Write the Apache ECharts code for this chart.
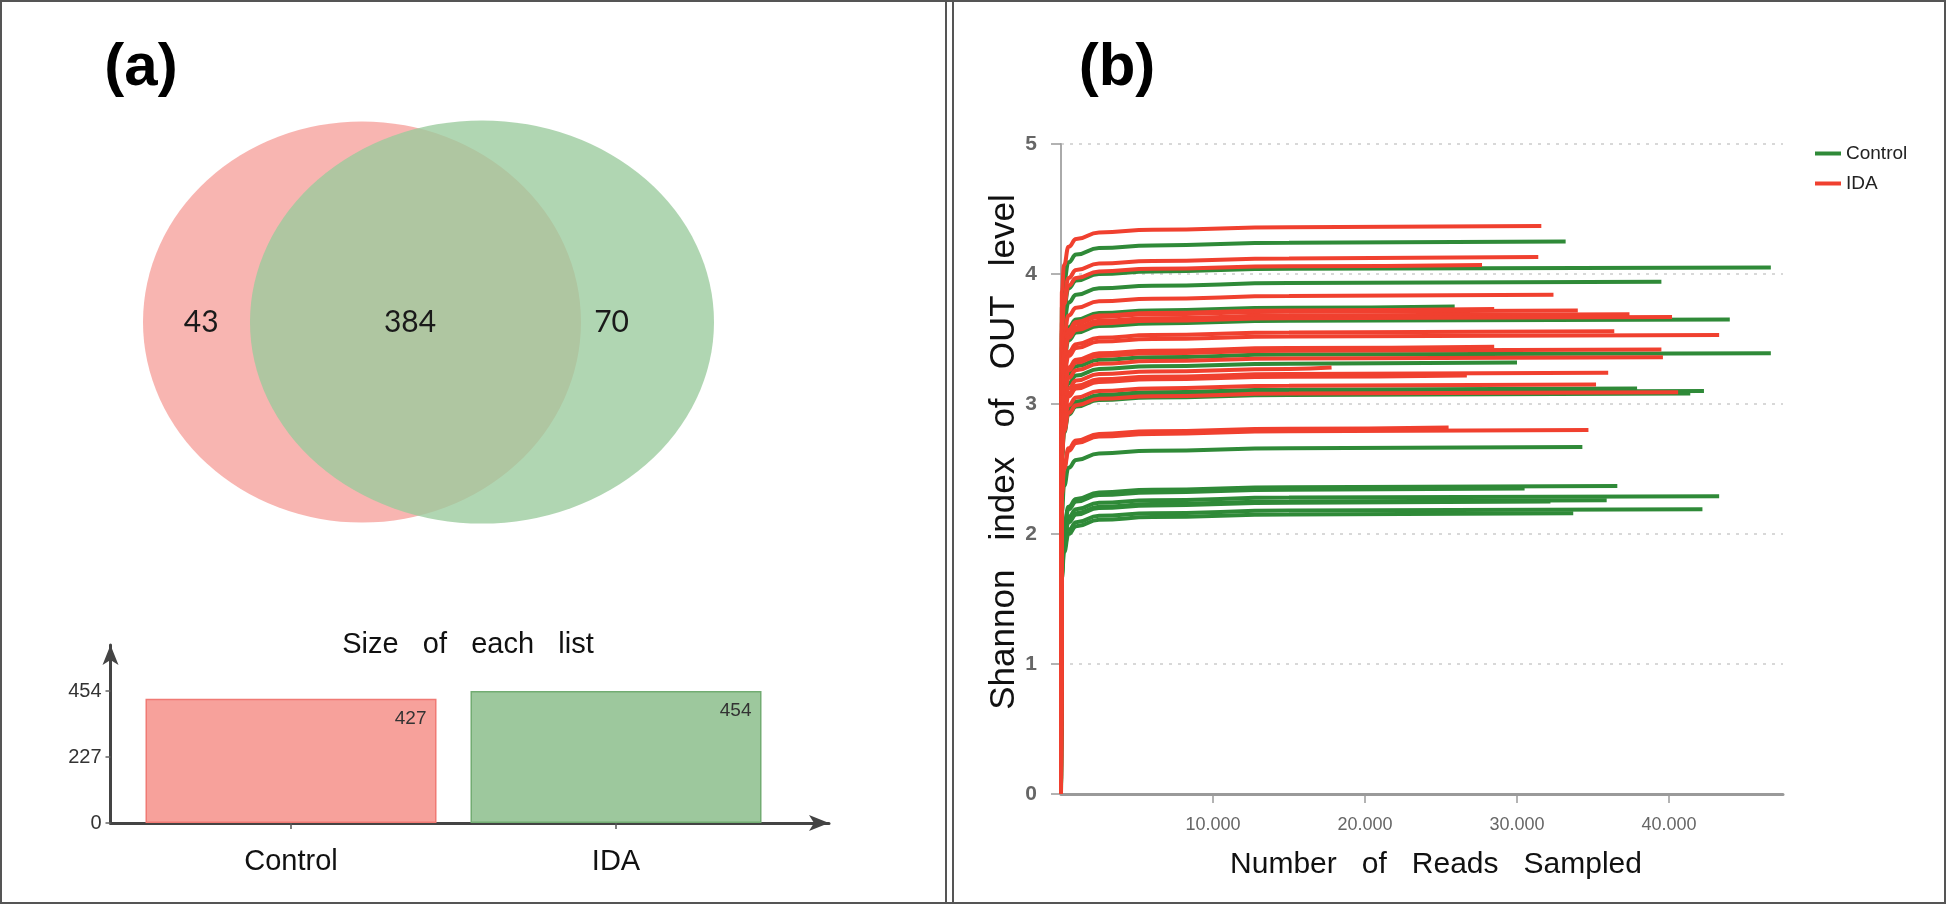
<!DOCTYPE html>
<html><head><meta charset="utf-8">
<script src="https://cdn.jsdelivr.net/npm/echarts@6/dist/echarts.min.js"></script>
<style>html,body{margin:0;padding:0;background:#fff}#c{width:1946px;height:904px}</style>
</head><body><div id="c"></div>
<script>
// ---------- data ----------
const vennSets = ['Control', 'IDA'];
const vennSetX = [0, 1];
const vennRegionValues = [43, 384, 70];
const vennRegionX = [-1.34, 0.40, 2.08];

const barCategories = ['Control', 'IDA'];
const barValues = [427, 454];
const barTicks = [0, 227, 454];

const xTicks = [10000, 20000, 30000, 40000];
const yTicks = [0, 1, 2, 3, 4, 5];

// rarefaction curves: reads sampled at these depths, then a final point at each sample's total depth
const readSteps = [0, 60, 200, 500, 1000, 2500, 6000, 15000];
// [total reads, Shannon values at readSteps..., Shannon at total reads]
const controlCurves = [
  [33200, [0,3.75,3.95,4.09,4.15,4.20,4.22,4.24,4.25]],
  [46700, [0,3.55,3.75,3.89,3.95,4.00,4.02,4.04,4.05]],
  [39500, [0,3.44,3.64,3.78,3.84,3.89,3.91,3.93,3.94]],
  [25900, [0,3.25,3.45,3.59,3.65,3.70,3.72,3.74,3.75]],
  [44000, [0,3.15,3.35,3.49,3.55,3.60,3.62,3.64,3.65]],
  [46700, [0,2.89,3.09,3.23,3.29,3.34,3.36,3.38,3.39]],
  [30000, [0,2.82,3.02,3.16,3.22,3.27,3.29,3.31,3.32]],
  [37900, [0,2.62,2.82,2.96,3.02,3.07,3.09,3.11,3.12]],
  [42300, [0,2.60,2.80,2.94,3.00,3.05,3.07,3.09,3.10]],
  [41400, [0,2.58,2.78,2.92,2.98,3.03,3.05,3.07,3.08]],
  [34300, [0,2.17,2.37,2.51,2.57,2.62,2.64,2.66,2.67]],
  [36600, [0,1.87,2.07,2.21,2.27,2.32,2.34,2.36,2.37]],
  [30500, [0,1.85,2.05,2.19,2.25,2.30,2.32,2.34,2.35]],
  [43300, [0,1.79,1.99,2.13,2.19,2.24,2.26,2.28,2.29]],
  [35900, [0,1.76,1.96,2.10,2.16,2.21,2.23,2.25,2.26]],
  [32200, [0,1.75,1.95,2.09,2.15,2.20,2.22,2.24,2.25]],
  [42200, [0,1.69,1.89,2.03,2.09,2.14,2.16,2.18,2.19]],
  [33700, [0,1.66,1.86,2.00,2.06,2.11,2.13,2.15,2.16]]
];
const idaCurves = [
  [31600, [0,3.87,4.07,4.21,4.27,4.32,4.34,4.36,4.37]],
  [31400, [0,3.63,3.83,3.97,4.03,4.08,4.10,4.12,4.13]],
  [27700, [0,3.57,3.77,3.91,3.97,4.02,4.04,4.06,4.07]],
  [32400, [0,3.34,3.54,3.68,3.74,3.79,3.81,3.83,3.84]],
  [28500, [0,3.23,3.43,3.57,3.63,3.68,3.70,3.72,3.73]],
  [34000, [0,3.22,3.42,3.56,3.62,3.67,3.69,3.71,3.72]],
  [37400, [0,3.19,3.39,3.53,3.59,3.64,3.66,3.68,3.69]],
  [40200, [0,3.17,3.37,3.51,3.57,3.62,3.64,3.66,3.67]],
  [36400, [0,3.06,3.26,3.40,3.46,3.51,3.53,3.55,3.56]],
  [43300, [0,3.03,3.23,3.37,3.43,3.48,3.50,3.52,3.53]],
  [28500, [0,2.94,3.14,3.28,3.34,3.39,3.41,3.43,3.44]],
  [39500, [0,2.92,3.12,3.26,3.32,3.37,3.39,3.41,3.42]],
  [39600, [0,2.86,3.06,3.20,3.26,3.31,3.33,3.35,3.36]],
  [17800, [0,2.78,2.98,3.12,3.18,3.23,3.25,3.27,3.28]],
  [36000, [0,2.74,2.94,3.08,3.14,3.19,3.21,3.23,3.24]],
  [26700, [0,2.72,2.92,3.06,3.12,3.17,3.19,3.21,3.22]],
  [35200, [0,2.65,2.85,2.99,3.05,3.10,3.12,3.14,3.15]],
  [40600, [0,2.59,2.79,2.93,2.99,3.04,3.06,3.08,3.09]],
  [25500, [0,2.32,2.52,2.66,2.72,2.77,2.79,2.81,2.82]],
  [34700, [0,2.30,2.50,2.64,2.70,2.75,2.77,2.79,2.80]]
];

// ---------- styling ----------
const SANS = "'Liberation Sans', Arial, sans-serif";
const GREEN = '#2f8a38', RED = '#f0402f';
const vennColors = ['rgba(244,131,125,0.6)', 'rgba(154,202,156,0.78)'];
const vennSizes = [[438, 401], [464, 403]];
const barFill = ['#f7a19b', '#9dc89d'];
const barBorder = ['#f07a74', '#72ac72'];

const chart = echarts.init(document.getElementById('c'));

function curveData(c) {
  const total = c[0], ys = c[1];
  const pts = readSteps.map((r, i) => [r, ys[i]]);
  pts.push([total, ys[ys.length - 1]]);
  return pts;
}
const curveSeries = [];
controlCurves.forEach(c => curveSeries.push({
  type: 'line', name: 'Control', data: curveData(c), xAxisIndex: 0, yAxisIndex: 0,
  showSymbol: false, smooth: 0.5, smoothMonotone: 'x', silent: true,
  lineStyle: { width: 4, color: GREEN }, itemStyle: { color: GREEN }, z: 3
}));
idaCurves.forEach(c => curveSeries.push({
  type: 'line', name: 'IDA', data: curveData(c), xAxisIndex: 0, yAxisIndex: 0,
  showSymbol: false, smooth: 0.5, smoothMonotone: 'x', silent: true,
  lineStyle: { width: 4, color: RED }, itemStyle: { color: RED }, z: 4
}));

const option = {
  animation: false,
  backgroundColor: '#fff',
  legend: {
    data: ['Control', 'IDA'], orient: 'vertical', left: 1810, top: 139,
    icon: 'rect', itemWidth: 26, itemHeight: 4, itemGap: 11,
    textStyle: { fontFamily: SANS, fontSize: 19, color: '#222' }
  },
  grid: [
    { left: 1061, top: 144, width: 722, height: 650, outerBoundsMode: 'none' },
    { left: 128.5, top: 691, width: 650, height: 132, outerBoundsMode: 'none' },
    { left: 110.5, top: 645, width: 718.5, height: 178, outerBoundsMode: 'none' },
    { left: 2, top: 222, width: 720, height: 200, outerBoundsMode: 'none' }
  ],
  xAxis: [
    { gridIndex: 0, type: 'value', min: 0, max: 47500,
      axisLine: { show: true, lineStyle: { color: '#9a9a9a', width: 3 } },
      axisTick: { show: true, customValues: xTicks, length: 9, lineStyle: { color: '#9a9a9a', width: 1.5 } },
      axisLabel: { show: true, customValues: xTicks, margin: 22, fontFamily: SANS, fontSize: 18, color: '#666',
        formatter: v => (v / 1000) + '.000' },
      splitLine: { show: false },
      name: 'Number   of   Reads   Sampled', nameLocation: 'middle', nameGap: 56,
      nameTextStyle: { fontFamily: SANS, fontSize: 30, color: '#111', padding: [0, 0, 0, 28] } },
    { gridIndex: 1, type: 'category', data: barCategories,
      axisLine: { show: true, lineStyle: { opacity: 0 } },
      axisTick: { show: true, alignWithLabel: true, length: 6, lineStyle: { color: '#555', width: 1.5 } },
      axisLabel: { margin: 24, fontFamily: SANS, fontSize: 29, color: '#111' } },
    { gridIndex: 2, type: 'value', min: 0, max: 1,
      axisLine: { show: true, symbol: ['none', 'arrow'], symbolSize: [12, 20], lineStyle: { color: '#444', width: 3 } },
      axisTick: { show: false }, axisLabel: { show: false }, splitLine: { show: false } },
    { gridIndex: 3, type: 'value', min: -3, max: 3, show: false }
  ],
  yAxis: [
    { gridIndex: 0, type: 'value', min: 0, max: 5, interval: 1,
      axisLine: { show: true, lineStyle: { color: '#aaa', width: 2 } },
      axisTick: { show: true, length: 10, lineStyle: { color: '#999', width: 1.5 } },
      axisLabel: { margin: 24, fontFamily: SANS, fontWeight: 'bold', fontSize: 21, color: '#666' },
      splitLine: { show: true, lineStyle: { color: '#ccc', type: [3, 6], width: 1.5 } },
      name: 'Shannon   index   of   OUT   level', nameLocation: 'middle', nameGap: 34, nameRotate: 90,
      nameTextStyle: { fontFamily: SANS, fontSize: 35, color: '#111', padding: [0, 0, 0, 34] } },
    { gridIndex: 1, type: 'value', min: 0, max: 454, interval: 227, offset: 18,
      axisLine: { show: false },
      axisTick: { show: true, length: 5, lineStyle: { color: '#666', width: 1.5 } },
      axisLabel: { margin: 9, fontFamily: SANS, fontSize: 20, color: '#333' },
      splitLine: { show: false } },
    { gridIndex: 2, type: 'value', min: 0, max: 1,
      axisLine: { show: true, symbol: ['none', 'arrow'], symbolSize: [12, 20], lineStyle: { color: '#444', width: 3 } },
      axisTick: { show: false }, axisLabel: { show: false }, splitLine: { show: false } },
    { gridIndex: 3, type: 'value', min: -1, max: 1, show: false }
  ],
  series: [
    { type: 'scatter', xAxisIndex: 3, yAxisIndex: 3, silent: true, z: 1,
      data: vennSets.map((n, i) => ({ name: n, value: [vennSetX[i], 0], symbolSize: vennSizes[i],
        itemStyle: { color: vennColors[i], opacity: 1 } })) },
    { type: 'scatter', xAxisIndex: 3, yAxisIndex: 3, silent: true, z: 2, symbolSize: 2,
      itemStyle: { color: 'rgba(0,0,0,0)', opacity: 1 },
      data: vennRegionValues.map((v, i) => [vennRegionX[i], 0, v]),
      label: { show: true, position: 'inside', formatter: p => p.value[2],
        fontFamily: "Lato, 'Open Sans', sans-serif", fontSize: 30, color: '#1a1a1a' } },
    { type: 'bar', xAxisIndex: 1, yAxisIndex: 1, barWidth: 291, silent: true,
      data: barValues.map((v, i) => ({ value: v, itemStyle: { color: barFill[i], borderColor: barBorder[i], borderWidth: 1.5 } })),
      label: { show: true, position: 'insideTopRight', distance: 10, fontFamily: SANS, fontSize: 19, color: '#333' } },
    ...curveSeries
  ],
  graphic: [
    { type: 'rect', shape: { x: 1, y: 1, width: 1944, height: 902 }, style: { fill: 'none', stroke: '#555', lineWidth: 2 }, silent: true },
    { type: 'line', shape: { x1: 946, y1: 0, x2: 946, y2: 904 }, style: { stroke: '#555', lineWidth: 2 }, silent: true },
    { type: 'line', shape: { x1: 953, y1: 0, x2: 953, y2: 904 }, style: { stroke: '#555', lineWidth: 2 }, silent: true },
    { type: 'text', x: 141, y: 68, style: { text: '(a)', font: "bold 60px 'Liberation Sans', Arial, sans-serif", fill: '#000', textAlign: 'center', textVerticalAlign: 'middle' }, silent: true },
    { type: 'text', x: 1117, y: 68, style: { text: '(b)', font: "bold 60px 'Liberation Sans', Arial, sans-serif", fill: '#000', textAlign: 'center', textVerticalAlign: 'middle' }, silent: true },
    { type: 'text', x: 468, y: 645, style: { text: 'Size   of   each   list', font: "29px 'Liberation Sans', Arial, sans-serif", fill: '#111', textAlign: 'center', textVerticalAlign: 'middle' }, silent: true }
  ]
};
chart.setOption(option);
</script>
</body></html>
